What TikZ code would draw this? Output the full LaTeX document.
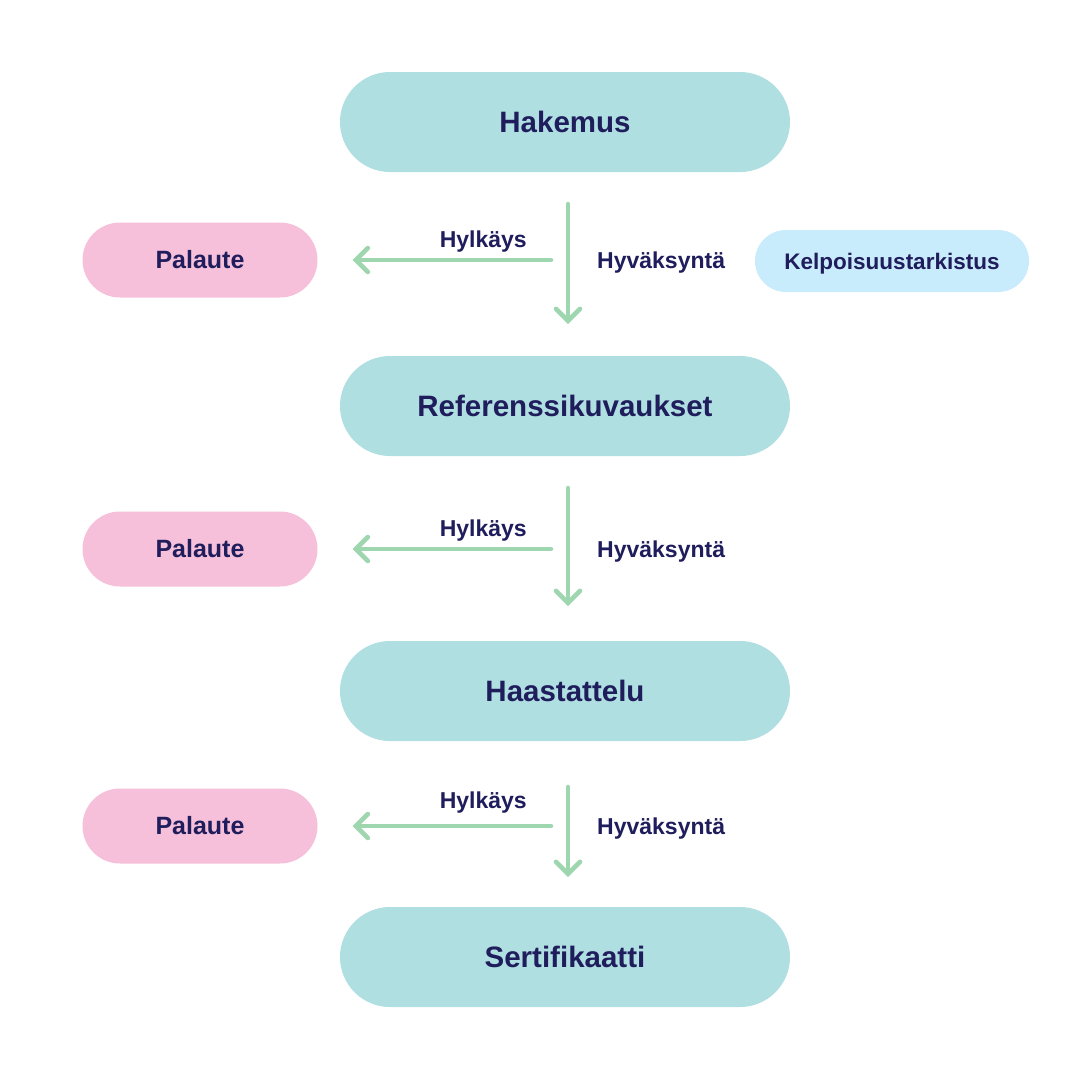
\documentclass[tikz,border=0pt]{standalone}
\usepackage{fontspec}
\setmainfont{Liberation Sans}
\usetikzlibrary{arrows.meta}
\definecolor{teal1}{RGB}{176,223,226}
\definecolor{pink1}{RGB}{246,192,218}
\definecolor{blue1}{RGB}{201,236,252}
\definecolor{green1}{RGB}{158,214,176}
\definecolor{navy1}{RGB}{31,29,92}
\tikzset{
  mainbox/.style={fill=teal1, rounded corners=50pt, minimum width=450pt, minimum height=100pt,
    inner sep=0pt, text=navy1, font=\fontsize{29.5}{32}\selectfont\bfseries, text height=21.1pt, text depth=0pt},
  fbbox/.style={fill=pink1, rounded corners=37.5pt, minimum width=235pt, minimum height=75pt,
    inner sep=0pt, text=navy1, font=\fontsize{25}{28}\selectfont\bfseries, text height=17.9pt, text depth=0pt},
  chkbox/.style={fill=blue1, rounded corners=31pt, minimum width=274pt, minimum height=62pt,
    inner sep=0pt, text=navy1, font=\fontsize{22.5}{26}\selectfont\bfseries, text height=16.1pt, text depth=0pt},
  lbl/.style={inner sep=0pt, text=navy1, font=\fontsize{23}{26}\selectfont\bfseries},
  flow/.style={draw=green1, line width=4.5pt, line cap=round,
    -{Straight Barb[length=12pt, width=24pt, line width=4.5pt, line cap=round]}},
}
\begin{document}
\begin{tikzpicture}[x=1pt, y=-1pt]
\useasboundingbox (0,0) rectangle (1080,1080);
\fill[white] (0,0) rectangle (1080,1080);

\node[mainbox] (hak) at (565,122) {Hakemus};
\node[mainbox] (ref) at (565,406) {Referenssikuvaukset};
\node[mainbox] (haa) at (565,691) {Haastattelu};
\node[mainbox] (ser) at (565,957) {Sertifikaatti};

\node[fbbox] (pal1) at (200,260) {Palaute};
\node[fbbox] (pal2) at (200,549) {Palaute};
\node[fbbox] (pal3) at (200,826) {Palaute};

\node[chkbox] (kel) at (892,261) {Kelpoisuustarkistus};

% vertical flows
\coordinate (v1a) at (568,204);
\coordinate (v1b) at (568,324);
\coordinate (v2a) at (568,488);
\coordinate (v2b) at (568,606);
\coordinate (v3a) at (568,787);
\coordinate (v3b) at (568,877);
\draw[flow] (v1a) -- (v1b);
\draw[flow] (v2a) -- (v2b);
\draw[flow] (v3a) -- (v3b);

% rejection flows
\coordinate (h1) at (551,260);
\coordinate (h2) at (551,549);
\coordinate (h3) at (551,826);
\draw[flow, shorten >=35pt] (h1) -- (pal1.east);
\draw[flow, shorten >=35pt] (h2) -- (pal2.east);
\draw[flow, shorten >=35pt] (h3) -- (pal3.east);

% labels
\node[lbl, anchor=base east] (r1) at (527,247) {Hylkäys};
\node[lbl, anchor=base east] (r2) at (527,536) {Hylkäys};
\node[lbl, anchor=base east] (r3) at (527,808) {Hylkäys};
\node[lbl, anchor=base west] (a1) at (597,268) {Hyväksyntä};
\node[lbl, anchor=base west] (a2) at (597,557) {Hyväksyntä};
\node[lbl, anchor=base west] (a3) at (597,834) {Hyväksyntä};
\end{tikzpicture}
\end{document}
